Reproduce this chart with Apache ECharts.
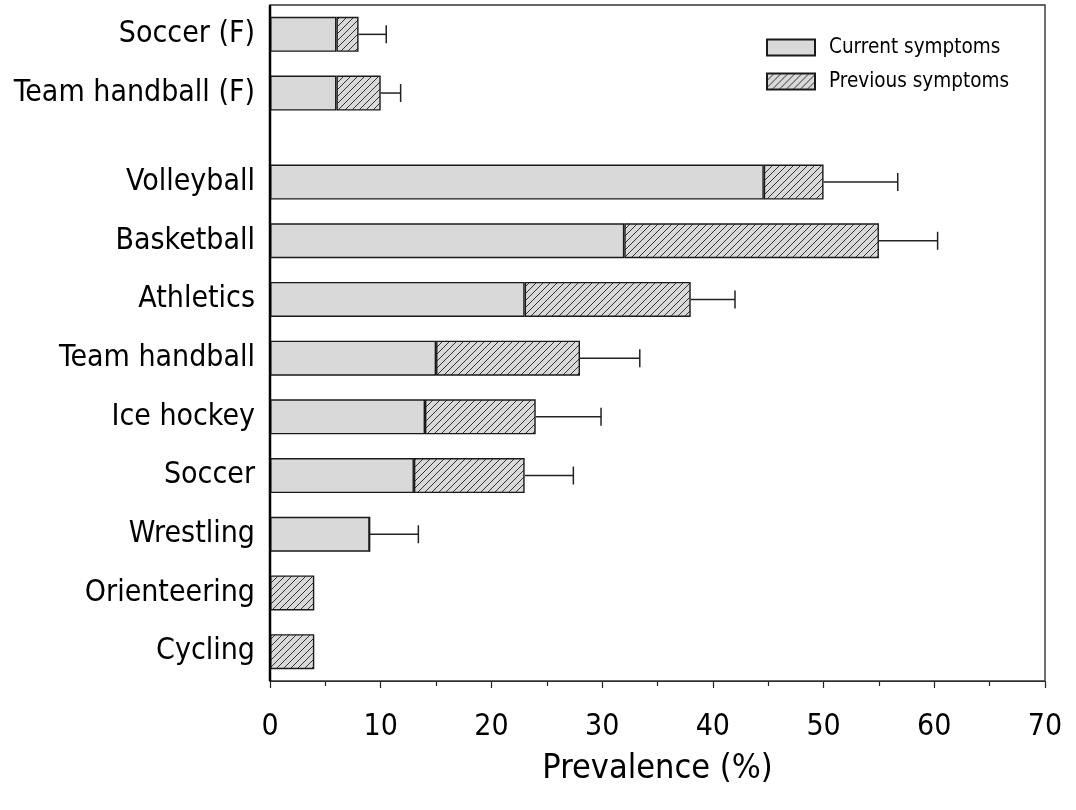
<!DOCTYPE html>
<html>
<head>
<meta charset="utf-8">
<script src="https://cdn.jsdelivr.net/npm/echarts@6/dist/echarts.min.js"></script>
<style>html,body{margin:0;padding:0;background:#fff;}#c{width:1076px;height:810px;}</style>
</head>
<body>
<div id="c"></div>
<script>
// ---- data ----
const femaleCategories = ['Soccer (F)', 'Team handball (F)'];
const femaleCurrent = [6, 6];
const femalePrevious = [2, 4];
const femaleErrorUpper = [10.5, 11.8];

const categories = ['Volleyball', 'Basketball', 'Athletics', 'Team handball', 'Ice hockey', 'Soccer', 'Wrestling', 'Orienteering', 'Cycling'];
const current = [44.6, 32, 23, 15, 14, 13, 9, 0, 0];
const previous = [5.4, 23, 15, 13, 10, 10, 0, 4, 4];
const errorUpper = [56.7, 60.3, 42, 33.4, 29.9, 27.4, 13.4, null, null];

const xMin = 0, xMax = 70, xInterval = 10;
const seriesNames = ['Current symptoms', 'Previous symptoms'];
const axisTitle = 'Prevalence (%)';

// ---- styles ----
const FONT = "'DejaVu Sans Condensed', 'DejaVu Sans', sans-serif";
const GRAY = '#d9d9d9';
function hatch() {
  const c = document.createElement('canvas');
  c.width = 7; c.height = 7;
  const g = c.getContext('2d');
  g.fillStyle = GRAY; g.fillRect(0, 0, 7, 7);
  g.strokeStyle = '#333'; g.lineWidth = 1;
  g.beginPath();
  g.moveTo(0, 7); g.lineTo(7, 0);
  g.moveTo(-1, 1); g.lineTo(1, -1);
  g.moveTo(6, 8); g.lineTo(8, 6);
  g.stroke();
  return c;
}
const hatchPattern = { image: hatch(), repeat: 'repeat' };
const barBorder = { borderColor: '#1a1a1a', borderWidth: 1.4 };

function errData(cur, prev, up) {
  return up.map((u, i) => u == null ? null : [cur[i] + prev[i], u, i]).filter(d => d);
}
function errSeries(data, xi, yi) {
  return {
    type: 'custom', xAxisIndex: xi, yAxisIndex: yi, silent: true, z: 1,
    encode: { x: [0, 1], y: 2 },
    data: data,
    renderItem: function (params, api) {
      const p0 = api.coord([api.value(0), api.value(2)]);
      const p1 = api.coord([api.value(1), api.value(2)]);
      const h = 9;
      return {
        type: 'group',
        children: [
          { type: 'line', shape: { x1: p0[0], y1: p0[1], x2: p1[0], y2: p1[1] }, style: { stroke: '#222', lineWidth: 1.5 } },
          { type: 'line', shape: { x1: p1[0], y1: p1[1] - h, x2: p1[0], y2: p1[1] + h }, style: { stroke: '#222', lineWidth: 1.5 } }
        ]
      };
    }
  };
}

const S = 58.7;
const L = 270, R = 1045, T = 5, B = 681;

const chart = echarts.init(document.getElementById('c'));
chart.setOption({
  animation: false,
  backgroundColor: '#fff',
  textStyle: { fontFamily: FONT },
  grid: [
    { left: L, width: R - L, top: T, height: 2 * S },
    { left: L, width: R - L, top: B - 9 * S, height: 9 * S }
  ],
  legend: {
    orient: 'vertical', left: 766, top: 37, padding: 0,
    icon: 'rect',
    itemWidth: 48, itemHeight: 16, itemGap: 13, selectedMode: false,
    textStyle: { fontFamily: FONT, fontSize: 20.5, color: '#000', padding: [0, 0, 0, 9] },
    data: seriesNames
  },
  xAxis: [
    { gridIndex: 0, type: 'value', min: xMin, max: xMax, interval: xInterval, show: false, splitLine: { show: false } },
    {
      gridIndex: 1, type: 'value', min: xMin, max: xMax, interval: xInterval,
      axisLine: { show: true, lineStyle: { color: '#222', width: 1.2 } },
      axisTick: { show: true, length: 7, lineStyle: { color: '#222', width: 1.2 } },
      minorTick: { show: true, splitNumber: 2, length: 5, lineStyle: { color: '#222', width: 1.2 } },
      splitLine: { show: false },
      axisLabel: { fontSize: 30, color: '#000', margin: 31, fontFamily: FONT },
      name: axisTitle, nameLocation: 'middle', nameGap: 71,
      nameTextStyle: { fontSize: 34, color: '#000', fontFamily: FONT }
    }
  ],
  yAxis: [
    {
      gridIndex: 0, type: 'category', data: femaleCategories, inverse: true,
      axisLine: { show: false }, axisTick: { show: false },
      axisLabel: { fontSize: 30, color: '#000', margin: 15, fontFamily: FONT }
    },
    {
      gridIndex: 1, type: 'category', data: categories, inverse: true,
      axisLine: { show: false }, axisTick: { show: false },
      axisLabel: { fontSize: 30, color: '#000', margin: 15, fontFamily: FONT }
    }
  ],
  graphic: [
    { type: 'rect', silent: true, z: 100, shape: { x: L, y: T, width: R - L, height: B - T }, style: { fill: null, stroke: '#333', lineWidth: 1.4 } },
    { type: 'line', silent: true, z: 101, shape: { x1: L, y1: T, x2: L, y2: B }, style: { stroke: '#000', lineWidth: 2.5 } }
  ],
  series: [
    { name: seriesNames[0], type: 'bar', stack: 'f', xAxisIndex: 0, yAxisIndex: 0, barWidth: 35, data: femaleCurrent, itemStyle: Object.assign({ color: GRAY }, barBorder) },
    { name: seriesNames[1], type: 'bar', stack: 'f', xAxisIndex: 0, yAxisIndex: 0, barWidth: 35, data: femalePrevious, itemStyle: Object.assign({ color: hatchPattern }, barBorder) },
    { name: seriesNames[0], type: 'bar', stack: 'm', xAxisIndex: 1, yAxisIndex: 1, barWidth: 35, data: current, itemStyle: Object.assign({ color: GRAY }, barBorder) },
    { name: seriesNames[1], type: 'bar', stack: 'm', xAxisIndex: 1, yAxisIndex: 1, barWidth: 35, data: previous, itemStyle: Object.assign({ color: hatchPattern }, barBorder) },
    errSeries(errData(femaleCurrent, femalePrevious, femaleErrorUpper), 0, 0),
    errSeries(errData(current, previous, errorUpper), 1, 1)
  ]
});
</script>
</body>
</html>
